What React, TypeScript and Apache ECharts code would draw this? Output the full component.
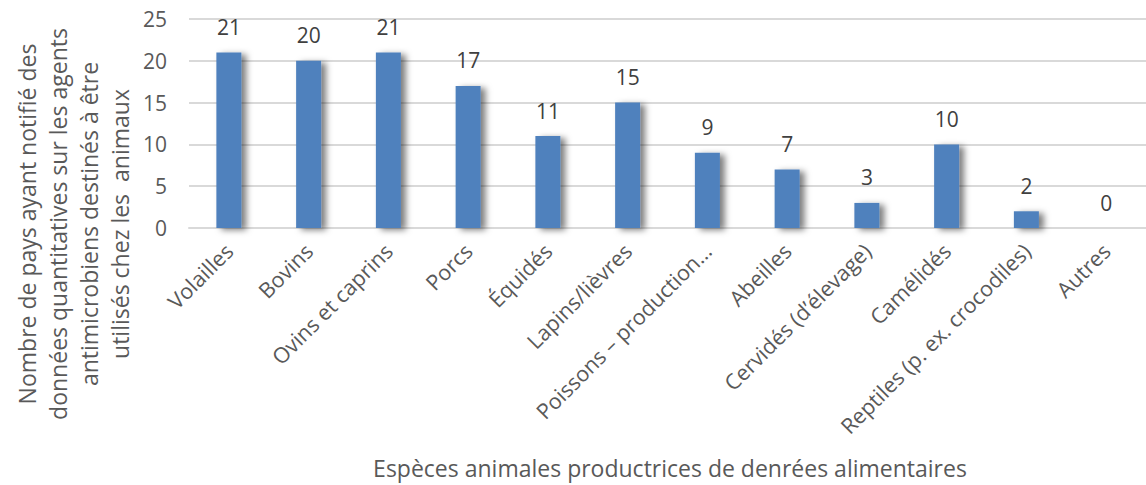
import React, { useEffect, useRef } from "react";
import * as echarts from "echarts";

// Espèces animales et nombre de pays ayant notifié des données
const categories = [
  "Volailles",
  "Bovins",
  "Ovins et caprins",
  "Porcs",
  "Équidés",
  "Lapins/lièvres",
  "Poissons – production…",
  "Abeilles",
  "Cervidés (d’élevage)",
  "Camélidés",
  "Reptiles (p. ex. crocodiles)",
  "Autres",
];
const countries = [21, 20, 21, 17, 11, 15, 9, 7, 3, 10, 2, 0];

const yTitleLines = [
  "Nombre de pays ayant notifié des",
  "données quantitatives sur les agents",
  "antimicrobiens destinés à être",
  "utilisés chez les  animaux",
];
const xTitle = "Espèces animales productrices de denrées alimentaires";

const FONT = "'Open Sans', 'Noto Sans', sans-serif";
const TEXT = "#595959";

export default function App() {
  const ref = useRef<HTMLDivElement>(null);

  useEffect(() => {
    if (!ref.current) return;
    const chart = echarts.init(ref.current, undefined, { renderer: "svg" });
    chart.setOption({
      animation: false,
      backgroundColor: "#ffffff",
      textStyle: { fontFamily: FONT },
      grid: { left: 189, top: 19, width: 960, height: 209, containLabel: false },
      xAxis: {
        type: "category",
        data: categories,
        axisTick: { show: false },
        axisLine: { show: true, lineStyle: { color: "#D9D9D9", width: 2 } },
        axisLabel: {
          interval: 0,
          rotate: 45,
          margin: 19,
          padding: [20, 0, 0, 0],
          fontSize: 21.5,
          color: TEXT,
          fontFamily: FONT,
        },
      },
      yAxis: {
        type: "value",
        min: 0,
        max: 25,
        interval: 5,
        axisLine: { show: false },
        axisTick: { show: false },
        splitLine: { lineStyle: { color: "#D9D9D9", width: 2 } },
        axisLabel: { margin: 22, fontSize: 21, color: TEXT, fontFamily: FONT },
      },
      series: [
        {
          type: "bar",
          data: countries,
          barWidth: 25,
          itemStyle: {
            color: "#4F81BD",
            shadowColor: "rgba(0,0,0,0.5)",
            shadowBlur: 6,
            shadowOffsetX: 5,
            shadowOffsetY: 2,
          },
          label: {
            show: true,
            position: "top",
            distance: 15,
            fontSize: 21,
            color: "#404040",
            fontFamily: FONT,
          },
        },
      ],
      graphic: [
        {
          type: "text",
          x: 73,
          y: 224,
          rotation: Math.PI / 2,
          style: {
            text: yTitleLines.join("\n"),
            align: "center",
            verticalAlign: "middle",
            lineHeight: 31,
            fontSize: 23,
            fill: TEXT,
            fontFamily: FONT,
          },
        },
        {
          type: "text",
          x: 670,
          y: 468,
          style: {
            text: xTitle,
            align: "center",
            verticalAlign: "middle",
            fontSize: 23,
            fill: TEXT,
            fontFamily: FONT,
          },
        },
      ],
    });
    return () => chart.dispose();
  }, []);

  return (
    <div
      ref={ref}
      style={{ position: "absolute", left: 0, top: 0, width: 1146, height: 485 }}
    />
  );
}
